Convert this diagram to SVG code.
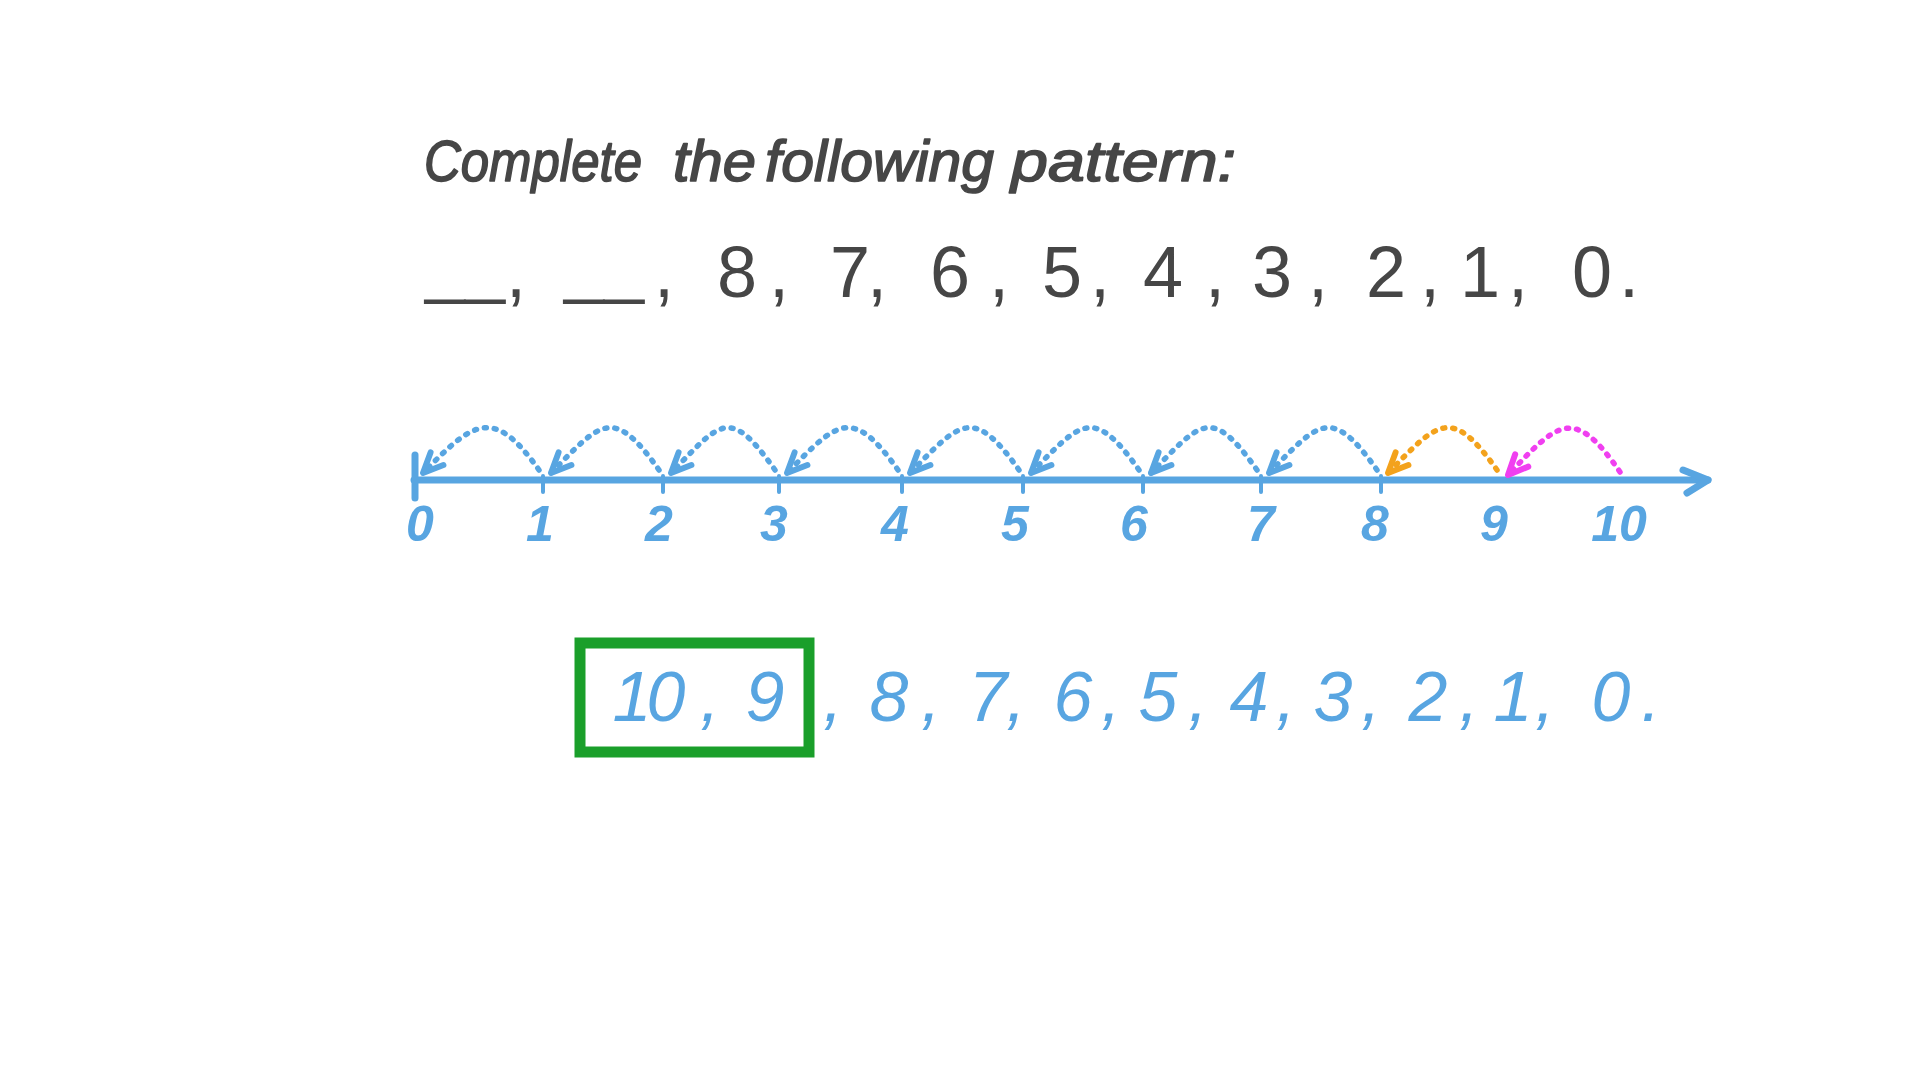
<svg xmlns="http://www.w3.org/2000/svg" width="1920" height="1080" viewBox="0 0 1920 1080">
<style>
.title{font-family:"Liberation Sans",Arial,sans-serif;font-style:italic;font-size:58px;fill:#464646;stroke:#464646;stroke-width:1.6;stroke-linejoin:round}
.q{font-family:"Liberation Sans",Arial,sans-serif;font-size:72px;fill:#464646;text-anchor:middle}
.lbl{font-family:"Liberation Sans",Arial,sans-serif;font-style:italic;font-weight:bold;font-size:50px;fill:#58a5e1;text-anchor:middle}
.ans{font-family:"Liberation Sans",Arial,sans-serif;font-style:italic;font-size:70px;fill:#58a5e1;text-anchor:middle}
.axis{stroke:#58a5e1;stroke-width:7;stroke-linecap:round;stroke-linejoin:round;fill:none}
.tick{stroke:#58a5e1;stroke-width:4;stroke-linecap:round}
.jump{fill:none;stroke-width:5.5;stroke-linecap:round;stroke-dasharray:2 8}
.blue{stroke:#58a5e1}
.orange{stroke:#f3a21c}
.pink{stroke:#f03ff0}
.box{fill:none;stroke:#1a9f2a;stroke-width:11;stroke-linejoin:miter}
</style>
<defs>
<marker id="ah-blue" markerUnits="userSpaceOnUse" orient="auto" markerWidth="30" markerHeight="30" viewBox="-25 -15 30 30" refX="0" refY="0" overflow="visible">
<path d="M-20,-9 L0,0 L-20,9" fill="none" stroke="#58a5e1" stroke-width="6" stroke-linecap="round" stroke-linejoin="round"/>
</marker>
<marker id="ah-orange" markerUnits="userSpaceOnUse" orient="auto" markerWidth="30" markerHeight="30" viewBox="-25 -15 30 30" refX="0" refY="0" overflow="visible">
<path d="M-20,-9 L0,0 L-20,9" fill="none" stroke="#f3a21c" stroke-width="6" stroke-linecap="round" stroke-linejoin="round"/>
</marker>
<marker id="ah-pink" markerUnits="userSpaceOnUse" orient="auto" markerWidth="30" markerHeight="30" viewBox="-25 -15 30 30" refX="0" refY="0" overflow="visible">
<path d="M-20,-9 L0,0 L-20,9" fill="none" stroke="#f03ff0" stroke-width="6" stroke-linecap="round" stroke-linejoin="round"/>
</marker>
</defs>
<rect x="0" y="0" width="1920" height="1080" fill="#ffffff"/>

<g id="title">
<text class="title" y="181"><tspan x="424" textLength="218" lengthAdjust="spacingAndGlyphs">Complete</tspan> <tspan x="673" textLength="83" lengthAdjust="spacingAndGlyphs">the</tspan> <tspan x="765" textLength="229" lengthAdjust="spacingAndGlyphs">following</tspan> <tspan x="1011" textLength="225" lengthAdjust="spacingAndGlyphs">pattern:</tspan></text>
</g>

<g id="question">
<text class="q"><tspan x="465" y="290">__</tspan><tspan x="526" y="297">, </tspan><tspan x="604" y="290">__</tspan><tspan x="664 700 737 779 815 850 877 915 950 999 1030 1062 1100 1130 1163 1215 1245 1272 1318 1350 1386 1430 1455 1480 1518 1555 1592 1629" y="297">, 8, 7, 6, 5, 4, 3, 2, 1, 0.</tspan></text>
</g>

<g id="number-line">
<path class="axis" d="M414,480 L1708,480"/>
<path class="axis" d="M415,455 L415,498"/>
<path class="axis" d="M1683,470 L1708,480 L1687,493"/>
<path class="tick" d="M543,476 V492 M663,476 V492 M779,476 V492 M902,476 V492 M1023,476 V492 M1143,476 V492 M1261,476 V492 M1381,476 V492"/>
<g id="labels">
<text class="lbl" x="420" y="541">0</text>
<text class="lbl" x="540" y="541">1</text>
<text class="lbl" x="659" y="541">2</text>
<text class="lbl" x="774" y="541">3</text>
<text class="lbl" x="895" y="541">4</text>
<text class="lbl" x="1015" y="541">5</text>
<text class="lbl" x="1134" y="541">6</text>
<text class="lbl" x="1261" y="541">7</text>
<text class="lbl" x="1375" y="541">8</text>
<text class="lbl" x="1494" y="541">9</text>
<text class="lbl" x="1619" y="541">10</text>
</g>
</g>

<g id="jumps">
<path class="jump blue" marker-end="url(#ah-blue)" d="M539,470 C493,405 473,422 423,473"/>
<path class="jump blue" marker-end="url(#ah-blue)" d="M659,470 C613,405 601,422 551,473"/>
<path class="jump blue" marker-end="url(#ah-blue)" d="M775,470 C729,405 721,422 671,473"/>
<path class="jump blue" marker-end="url(#ah-blue)" d="M898,470 C852,405 837,422 787,473"/>
<path class="jump blue" marker-end="url(#ah-blue)" d="M1019,470 C973,405 960,422 910,473"/>
<path class="jump blue" marker-end="url(#ah-blue)" d="M1139,470 C1093,405 1081,422 1031,473"/>
<path class="jump blue" marker-end="url(#ah-blue)" d="M1257,470 C1211,405 1201,422 1151,473"/>
<path class="jump blue" marker-end="url(#ah-blue)" d="M1377,470 C1331,405 1319,422 1269,473"/>
<path class="jump orange" marker-end="url(#ah-orange)" d="M1497,470 C1451,405 1438,422 1388,473"/>
<path class="jump pink" marker-end="url(#ah-pink)" d="M1620,472 C1574,405 1558,422 1508,475"/>
</g>

<g id="answer">
<rect class="box" x="580" y="643" width="229" height="109"/>
<text class="ans" y="721" x="632 666 710 740 765 833 860 889 931 960 988 1016 1045 1073 1111 1135 1158 1198 1225 1249 1286 1310 1333 1371 1400 1428 1469 1490 1513 1545 1580 1611 1651">10, 9, 8, 7, 6, 5, 4, 3, 2, 1, 0.</text>
</g>
</svg>
